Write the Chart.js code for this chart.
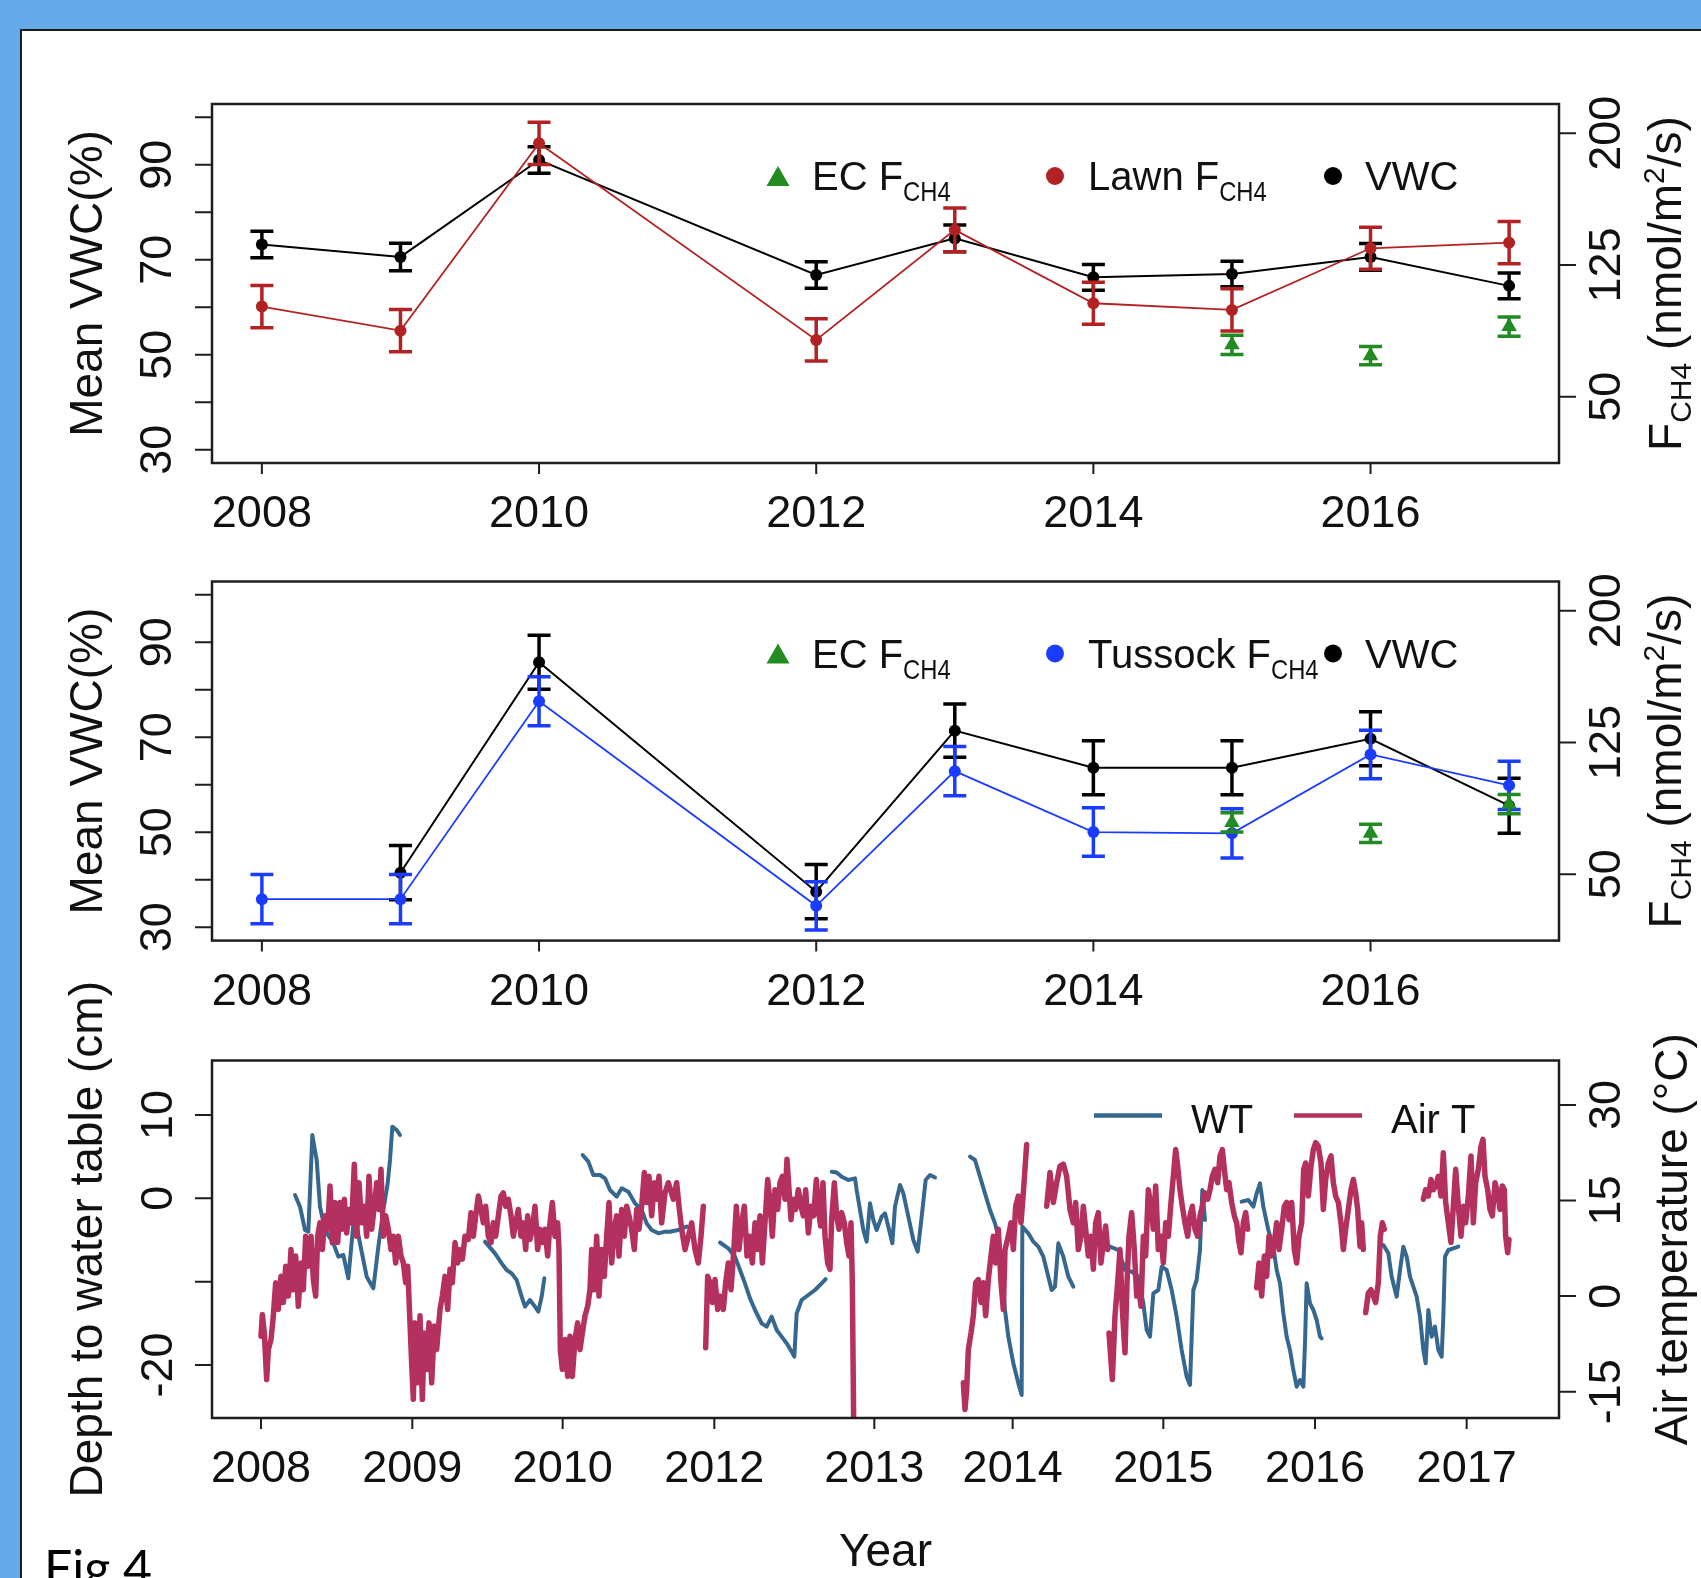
<!DOCTYPE html>
<html>
<head>
<meta charset="utf-8">
<script src="https://cdn.jsdelivr.net/npm/chart.js@4.4.1/dist/chart.umd.min.js"></script>
<style>
  html, body { margin: 0; padding: 0; }
  body { width: 1701px; height: 1578px; background: #64a9e8; position: relative; overflow: hidden; }
  #sheet { position: absolute; left: 20px; top: 29px; width: 1720px; height: 1600px; background: #fff; border: 2px solid #1b1b1b; }
  canvas { position: absolute; left: 0; top: 0; }
</style>
</head>
<body>
<div id="sheet"></div>
<canvas id="lawnChart" width="1701" height="1578"></canvas>
<canvas id="tussockChart" width="1701" height="1578"></canvas>
<canvas id="waterChart" width="1701" height="1578"></canvas>
<script>
// ---- panels a/b: yearly means with standard errors ----
const years = [2008, 2009, 2010, 2012, 2013, 2014, 2015, 2016, 2017];
const lawnVwc = [73.2, 70.6, 91.0, 66.8, 74.5, 66.3, 67.0, 70.6, 64.5];
const lawnVwcErr = [2.8, 2.9, 2.8, 2.8, 2.8, 2.7, 2.7, 2.8, 2.7];
const lawnFlux = [101.3, 87.6, 194.3, 82.3, 145.0, 103.2, 99.4, 134.5, 137.7];
const lawnFluxErr = [12, 12, 12, 12, 12.5, 12, 12, 12, 12];
const tussockVwc = [null, 41.5, 85.8, 37.5, 71.4, 63.6, 63.6, 69.7, 55.6];
const tussockVwcErr = [null, 5.7, 5.7, 5.7, 5.6, 5.7, 5.7, 5.7, 5.8];
const tussockFlux = [35.8, 35.8, 148.5, 32.0, 108.7, 74.0, 73.3, 118.2, 100.6];
const tussockFluxErr = [14, 14, 14, 13.7, 14, 13.8, 14, 13.8, 13.8];
const ecYears = [2015, 2016, 2017];
const ecFlux = [79.5, 73.3, 89.9];
const ecFluxErr = [5.5, 5.2, 5.5];

const yearTicks = [2008, 2010, 2012, 2014, 2016];
const vwcTicks = [30, 40, 50, 60, 70, 80, 90, 100];
const vwcLabels = [30, 50, 70, 90];
const fluxTicks = [50, 125, 200];

// ---- panel c: daily record, x = running index of observations (gaps removed) ----
const obsTickIdx = [0, 454, 905, 1360, 1840, 2255, 2707, 3162, 3617];
const obsTickLabels = ['2008', '2009', '2010', '2012', '2013', '2014', '2015', '2016', '2017'];
const wtTicks = [-20, -10, 0, 10];
const wtLabels = [-20, 0, 10];
const airTicks = [-15, 0, 15, 30];

const wtIdx = [
  102, 117, 132, 142, 154, 167, 177, 192, 217, 232, 247, 262, 280, 297, 317, 337, 352, 367, 380, 387, 394, 407, 417, 500,
  672, 702, 722, 737, 752, 767, 782, 792, 807, 822, 832, 842, 850, 900,
  965, 982, 997, 1017, 1032, 1047, 1067, 1082, 1102, 1122, 1142, 1157, 1172, 1192, 1212, 1227, 1252, 1277, 1320,
  1377, 1402, 1422, 1437, 1452, 1467, 1482, 1502, 1517, 1532, 1547, 1562, 1577, 1592, 1600, 1607, 1622, 1642, 1662, 1682, 1694, 1700,
  1712, 1727, 1742, 1762, 1782, 1787, 1797, 1807, 1817, 1827, 1837, 1847, 1862, 1872, 1882, 1894, 1902, 1917, 1927, 1942, 1957, 1970, 1982, 1994, 2007, 2022, 2080,
  2127, 2142, 2157, 2172, 2187, 2202, 2212, 2222, 2232, 2242, 2257, 2272, 2282, 2284, 2302, 2317, 2332, 2347, 2362, 2372, 2382, 2392, 2407, 2422, 2437, 2490,
  2547, 2572, 2592, 2612, 2632, 2647, 2657, 2667, 2677, 2692, 2702, 2717, 2732, 2747, 2762, 2777, 2787, 2797, 2807, 2817, 2824, 2832, 2900,
  2942, 2962, 2977, 2987, 2997, 3007, 3022, 3037, 3047, 3057, 3067, 3077, 3087, 3097, 3107, 3117, 3127, 3132, 3137, 3147, 3157, 3167, 3177, 3182, 3300,
  3367, 3382, 3392, 3407, 3417, 3427, 3437, 3447, 3457, 3467, 3477, 3487, 3494, 3502, 3512, 3522, 3532, 3542, 3547, 3552, 3562, 3577, 3592
];
const wtDepth = [
  0.4, -1.0, -3.8, -4.0, 7.6, 4.6, -1.0, -3.8, -5.4, -7.0, -6.8, -9.6, -1.8, -5.4, -9.4, -10.8, -5.8, -1.4, 1.8, 4.6, 8.6, 8.2, 7.6, null,
  -5.2, -6.6, -7.8, -8.6, -9.0, -9.8, -11.8, -13.0, -12.2, -13.0, -13.6, -11.8, -9.6, null,
  5.2, 4.4, 2.8, 2.8, 2.4, 1.0, 0.2, 1.2, 0.8, -0.6, -1.4, -3.0, -3.8, -4.2, -4.0, -4.0, -3.8, -3.4, null,
  -5.3, -6.0, -7.0, -8.6, -10.2, -12.0, -13.4, -15.0, -15.4, -14.2, -15.8, -16.6, -17.4, -18.4, -19.0, -13.8, -12.2, -11.6, -11.0, -10.2, -9.7, null,
  3.2, 3.1, 2.6, 2.2, 2.4, 1.0, -1.4, -3.8, -5.2, -0.6, -2.6, -3.8, -2.2, -1.8, -3.4, -5.4, -1.0, 1.6, 0.6, -2.2, -5.0, -6.4, -2.2, 2.2, 2.8, 2.5, null,
  5.0, 4.6, 2.6, 0.6, -1.4, -3.0, -4.6, -8.2, -13.4, -16.6, -19.8, -22.2, -23.6, -3.4, -4.2, -5.2, -5.8, -7.0, -9.4, -11.0, -10.6, -5.4, -7.0, -9.4, -10.6, null,
  -5.8, -6.2, -8.6, -8.8, -9.4, -12.6, -15.8, -16.6, -11.4, -11.0, -8.2, -8.6, -11.0, -14.2, -18.2, -21.4, -22.4, -11.0, -9.8, -6.2, 1.0, -2.6, null,
  -0.4, -0.2, -1.0, 0.6, 1.8, -1.0, -3.8, -5.8, -8.6, -10.2, -13.8, -16.6, -18.2, -20.6, -22.6, -21.8, -22.6, -17.4, -10.2, -12.6, -13.4, -14.6, -16.6, -16.8, null,
  -5.6, -6.6, -9.4, -11.8, -8.6, -5.8, -7.0, -9.4, -10.6, -11.8, -14.2, -18.2, -19.8, -13.4, -16.6, -15.4, -18.2, -19.0, -14.2, -7.0, -6.2, -6.0, -5.8
];

const airIdx = [
  0, 4, 10, 17, 22, 30, 37, 44, 52, 60, 67, 74, 82, 90, 97, 104, 112, 120, 127, 134, 142, 150, 157, 164, 170, 177, 184, 192, 200, 207,
  214, 222, 230, 237, 244, 250, 257, 264, 272, 280, 287, 294, 302, 310, 317, 324, 332, 340, 347, 354, 360, 367, 374, 382, 390, 397, 404, 412, 420, 427,
  434, 440, 447, 452, 457, 462, 470, 477, 484, 490, 497, 504, 512, 520, 527, 537, 544, 552, 560, 567, 574, 582, 590, 597, 604, 612, 622, 630, 637, 644,
  652, 660, 667, 674, 682, 690, 697, 704, 712, 720, 727, 734, 742, 750, 757, 764, 772, 780, 787, 794, 800, 807, 814, 822, 830, 837, 844, 852, 860, 867,
  874, 882, 890, 894, 898, 904, 912, 920, 927, 934, 942, 950, 957, 964, 972, 980, 987, 992, 1000, 1007, 1014, 1022, 1030, 1037, 1044, 1052, 1060, 1067, 1074, 1082,
  1090, 1097, 1104, 1112, 1120, 1127, 1134, 1142, 1150, 1157, 1164, 1172, 1180, 1187, 1194, 1202, 1212, 1222, 1237, 1247, 1254, 1262, 1272, 1282, 1292, 1302, 1312, 1320, 1327, 1330,
  1334, 1340, 1347, 1354, 1362, 1370, 1378, 1387, 1394, 1402, 1410, 1418, 1426, 1434, 1442, 1450, 1458, 1466, 1474, 1482, 1490, 1497, 1504, 1512, 1520, 1527, 1534, 1542, 1550, 1557,
  1564, 1572, 1578, 1584, 1590, 1597, 1604, 1612, 1620, 1627, 1634, 1642, 1650, 1658, 1666, 1672, 1679, 1686, 1692, 1700, 1707, 1712, 1720, 1727, 1734, 1742, 1750, 1757, 1764, 1770, 1774, 1778, 1900,
  2107, 2112, 2117, 2122, 2130, 2137, 2144, 2152, 2160, 2167, 2174, 2182, 2190, 2197, 2204, 2212, 2220, 2227, 2232, 2242, 2250, 2257, 2264, 2272, 2280, 2287, 2297, 2320,
  2357, 2367, 2377, 2387, 2397, 2407, 2417, 2427, 2437, 2444, 2452, 2460, 2467, 2474, 2482, 2490, 2497, 2504, 2512, 2520, 2527, 2534, 2540, 2542,
  2544, 2554, 2562, 2570, 2577, 2584, 2592, 2598, 2604, 2612, 2620, 2627, 2634, 2640, 2647, 2654, 2662, 2670, 2677, 2684, 2692, 2700, 2707, 2714, 2722, 2730, 2737, 2744, 2750, 2757,
  2764, 2772, 2780, 2787, 2794, 2802, 2810, 2817, 2824, 2832, 2840, 2847, 2854, 2862, 2870, 2877, 2884, 2890, 2897, 2904, 2912, 2920, 2927, 2934, 2940, 2947, 2954, 2960, 2975,
  2987, 2994, 3002, 3010, 3017, 3024, 3032, 3040, 3047, 3054, 3062, 3070, 3077, 3084, 3092, 3100, 3107, 3114, 3122, 3128, 3134, 3142, 3150, 3157, 3164, 3172, 3180, 3187, 3194, 3202,
  3210, 3217, 3224, 3232, 3240, 3247, 3254, 3262, 3270, 3277, 3284, 3290, 3297, 3302, 3307, 3310,
  3314, 3322, 3330, 3337, 3344, 3352, 3358, 3364, 3370, 3420,
  3487, 3494, 3502, 3510, 3517, 3524, 3532, 3540, 3547, 3554, 3562, 3570, 3577, 3584, 3592, 3600, 3607, 3614, 3622, 3630, 3637, 3644, 3652, 3660, 3666, 3672, 3680, 3687, 3694, 3702,
  3710, 3717, 3724, 3730, 3734, 3740, 3744
];
const airTemp = [
  -6.3, -2.9, -5.8, -13.1, -8.4, -6.8, -3.1, 2.1, -2.1, 3.1, -1.0, 4.7, 0, 7.3, 1.0, 6.3, -1.6, 5.2, 1.0, 9.4, 4.7, 9.4, 2.6, 0, 9.4, 11.5, 7.3, 12.6, 10.5, 17.3,
  8.4, 14.7, 8.4, 14.7, 10.5, 15.2, 9.9, 13.6, 11.5, 20.7, 9.4, 17.8, 11.5, 14.1, 9.4, 18.8, 10.5, 14.1, 17.8, 13.6, 19.9, 9.4, 12.6, 10.5, 7.3, 9.4, 5.2, 9.4, 6.3, 5.2,
  2.1, 4.7, -4.2, -10.5, -16.2, -4.2, -13.6, -3.1, -16.2, -5.8, -11.5, -4.2, -13.6, -4.7, -8.4, -2.1, 0, 3.1, -2.1, 4.2, 2.1, 8.4, 5.2, 7.3, 5.8, 9.4, 8.9, 13.1, 9.4, 12.6,
  15.7, 13.6, 11.5, 14.1, 9.4, 8.4, 11.5, 9.4, 12.6, 15.7, 16.2, 14.1, 15.2, 12.6, 9.4, 11.5, 13.6, 9.4, 11.5, 7.3, 12.6, 8.9, 10.5, 14.1, 7.3, 10.5, 8.4, 10.5, 6.3, 11.5,
  14.7, 9.4, 11.5, 7.3, -8.4, -11.5, -6.8, -12.6, -6.3, -12.6, -6.8, -4.2, -8.4, -5.8, -3.1, -1.6, 1.0, 7.3, 1.0, 9.4, 0, 7.3, 3.1, 9.4, 14.7, 5.2, 10.5, 12.6, 6.3, 13.6,
  9.4, 14.1, 12.6, 10.5, 7.3, 13.6, 10.5, 14.1, 19.4, 14.7, 18.8, 12.6, 17.8, 15.2, 18.8, 11.5, 16.2, 17.8, 15.2, 17.8, 14.1, 10.5, 7.3, 9.4, 11.5, 7.3, 5.2, 9.4, 14.1, null,
  -8.1, 3.1, 2.1, -1.0, 2.6, -2.1, 0, -2.1, 2.1, 5.2, 1.0, 6.8, 14.1, 7.3, 11.5, 14.1, 6.3, 9.4, 5.2, 11.5, 7.3, 12.6, 5.2, 11.5, 18.3, 14.7, 9.4, 16.7, 13.6, 17.8,
  18.8, 15.2, 21.5, 16.7, 12.0, 15.2, 13.6, 16.7, 14.1, 12.6, 16.7, 9.9, 14.1, 12.6, 18.3, 13.6, 11.0, 17.8, 9.4, 5.2, 4.2, 12.0, 17.8, 12.6, 10.5, 13.1, 11.5, 8.4, 6.3, 11.5, 2.1, -20, null,
  -13.6, -17.8, -14.7, -8.4, -5.8, -3.1, 2.1, 2.6, -1.0, 2.1, -3.1, 2.6, 6.3, 9.4, 5.2, 10.5, 2.1, -2.1, 7.3, 9.4, 11.5, 7.3, 14.1, 15.7, 11.5, 16.2, 23.8, null,
  14.1, 19.4, 14.7, 17.8, 20.4, 20.7, 18.8, 13.6, 11.5, 14.7, 7.3, 9.4, 14.1, 10.5, 6.3, 9.4, 4.2, 11.5, 13.1, 5.2, 8.4, 11.0, 7.3, null,
  -5.8, -13.1, -3.1, 2.1, 7.3, -2.1, -8.9, 2.1, 9.4, 13.1, 7.3, 0, 1.0, -1.6, 9.4, 6.3, 16.7, 14.1, 10.5, 17.3, 7.3, 9.4, 5.2, 11.5, 9.4, 14.7, 18.8, 23.0, 20.4, 16.7,
  14.1, 11.5, 9.4, 12.6, 14.1, 10.5, 9.4, 12.6, 14.1, 16.2, 15.2, 16.7, 18.8, 19.9, 17.8, 22.0, 23.0, 19.9, 16.7, 17.8, 14.7, 12.6, 11.5, 8.4, 6.8, 11.5, 13.1, 10.5, null,
  1.3, 5.2, 0, 6.3, 3.1, 9.4, 6.3, 8.4, 11.5, 7.3, 10.5, 14.1, 14.7, 12.0, 14.7, 7.3, 5.2, 9.4, 11.5, 19.9, 20.9, 15.7, 20.4, 23.0, 24.1, 23.5, 20.9, 13.6, 18.3, 20.9,
  22.0, 17.8, 15.7, 14.7, 11.5, 7.3, 10.5, 13.6, 16.7, 18.3, 16.2, 13.6, 7.8, 11.5, 7.3, null,
  -2.6, 0.5, 1.0, 0, -1.0, 2.1, 9.4, 11.5, 10.5, null,
  15.2, 16.7, 15.7, 18.3, 16.7, 17.3, 18.8, 15.7, 22.5, 14.7, 11.5, 8.4, 14.1, 19.9, 14.1, 9.4, 14.1, 11.5, 15.7, 22.0, 11.5, 17.8, 19.9, 23.5, 24.6, 18.8, 16.7, 13.6, 12.6, 17.8,
  16.2, 13.6, 17.3, 16.7, 9.4, 6.8, 8.9
];

const FONT = '"Liberation Sans", Arimo, Arial, Helvetica, sans-serif';
const TICK_SIZE = 45;
const TITLE_SIZE = 46;
const LEG_SIZE = 40;
const GREEN = '#228b22';
const LAWN = '#b22222';
const TUSSOCK = '#1a3cff';
const WT_COL = '#35678f';
const AIR_COL = '#b3305f';

const pts = (xs, ys) => xs.map((x, i) => ({ x, y: ys[i] }));

// text made of pieces (for sub/superscripts), optionally rotated to read upwards
function rich(ctx, parts, x, y, rotate, align) {
  ctx.save();
  ctx.translate(x, y);
  if (rotate) ctx.rotate(-Math.PI / 2);
  ctx.textAlign = 'left';
  ctx.textBaseline = 'alphabetic';
  ctx.fillStyle = '#111';
  let total = 0;
  const widths = parts.map(p => {
    ctx.font = p.s + 'px ' + FONT;
    const w = ctx.measureText(p.t).width * (p.sx || 1);
    total += w;
    return w;
  });
  let cx = align === 'center' ? -total / 2 : 0;
  parts.forEach((p, i) => {
    ctx.font = p.s + 'px ' + FONT;
    ctx.save();
    ctx.translate(cx, p.dy || 0);
    ctx.scale(p.sx || 1, 1);
    ctx.fillText(p.t, 0, 0);
    ctx.restore();
    cx += widths[i];
  });
  ctx.restore();
}

function drawErrors(chart, args, specs) {
  const spec = specs[args.index];
  if (!spec) return;
  const ctx = chart.ctx;
  const xs = chart.scales.x;
  const ys = chart.scales[spec.axis];
  ctx.save();
  ctx.strokeStyle = spec.color;
  ctx.lineWidth = 3.5;
  spec.x.forEach((xv, i) => {
    const v = spec.y[i];
    const e = spec.e[i];
    if (v == null) return;
    const px = xs.getPixelForValue(xv);
    const top = ys.getPixelForValue(v + e);
    const bot = ys.getPixelForValue(v - e);
    ctx.beginPath();
    ctx.moveTo(px, top); ctx.lineTo(px, bot);
    ctx.moveTo(px - 11.5, top); ctx.lineTo(px + 11.5, top);
    ctx.moveTo(px - 11.5, bot); ctx.lineTo(px + 11.5, bot);
    ctx.stroke();
  });
  ctx.restore();
}

// R style box, outward ticks, rotated y labels and axis titles
function drawFrame(chart, f) {
  const { ctx, chartArea: a, scales } = chart;
  ctx.save();
  ctx.strokeStyle = '#1e1e1e';
  ctx.lineWidth = 2.5;
  ctx.strokeRect(a.left, a.top, a.right - a.left, a.bottom - a.top);
  ctx.lineWidth = 2;
  ctx.beginPath();
  f.xTicks.forEach(v => {
    const x = scales.x.getPixelForValue(v);
    ctx.moveTo(x, a.bottom); ctx.lineTo(x, a.bottom + 11);
  });
  f.yTicks.forEach(v => {
    const y = scales.y.getPixelForValue(v);
    ctx.moveTo(a.left, y); ctx.lineTo(a.left - 17, y);
  });
  f.y2Ticks.forEach(v => {
    const y = scales.y2.getPixelForValue(v);
    ctx.moveTo(a.right, y); ctx.lineTo(a.right + 17, y);
  });
  ctx.stroke();

  ctx.fillStyle = '#111';
  ctx.font = TICK_SIZE + 'px ' + FONT;
  ctx.textAlign = 'center';
  ctx.textBaseline = 'alphabetic';
  f.xTicks.forEach((v, i) => ctx.fillText(f.xLabels[i], scales.x.getPixelForValue(v), a.bottom + 64));
  f.yLabels.forEach(v => rich(ctx, [{ t: String(v), s: TICK_SIZE }], a.left - f.yLabelGap, scales.y.getPixelForValue(v), true, 'center'));
  f.y2Labels.forEach(v => rich(ctx, [{ t: String(v), s: TICK_SIZE }], a.right + 61, scales.y2.getPixelForValue(v), true, 'center'));

  const mid = (a.top + a.bottom) / 2;
  rich(ctx, f.leftTitle, 102, mid, true, 'center');
  rich(ctx, f.rightTitle, f.rightTitleX, mid, true, 'center');
  if (f.legend) f.legend(ctx, a);
  if (f.extra) f.extra(ctx, a);
  ctx.restore();
}

function dot(ctx, x, y, col) {
  ctx.fillStyle = col;
  ctx.beginPath();
  ctx.arc(x, y, 9, 0, Math.PI * 2);
  ctx.fill();
}

function fluxLegend(ctx, a, site, col) {
  const y = a.top + 72;
  ctx.fillStyle = GREEN;
  ctx.beginPath();
  ctx.moveTo(778, y - 10); ctx.lineTo(789.5, y + 10); ctx.lineTo(766.5, y + 10);
  ctx.closePath();
  ctx.fill();
  rich(ctx, [{ t: 'EC F', s: LEG_SIZE }, { t: 'CH4', s: 28, dy: 11, sx: 0.85 }], 812, y + 14);
  dot(ctx, 1055, y, col);
  rich(ctx, [{ t: site + ' F', s: LEG_SIZE }, { t: 'CH4', s: 28, dy: 11, sx: 0.85 }], 1088, y + 14);
  dot(ctx, 1333, y, '#000');
  rich(ctx, [{ t: 'VWC', s: LEG_SIZE }], 1365, y + 14);
}

const fluxTitle = [
  { t: 'F', s: TITLE_SIZE }, { t: 'CH4', s: 30, dy: 10 },
  { t: ' (nmol/m', s: TITLE_SIZE }, { t: '2', s: 30, dy: -17 }, { t: '/s)', s: TITLE_SIZE }
];

function framePlugin(id, frame, errSpecs) {
  return {
    id,
    afterDatasetDraw(chart, args) {
      if (errSpecs) drawErrors(chart, args, errSpecs);
    },
    afterDraw(chart) {
      drawFrame(chart, frame);
    }
  };
}

function baseOptions(pad, xr, yr, y2r) {
  return {
    responsive: false,
    animation: false,
    devicePixelRatio: 1,
    events: [],
    layout: { padding: pad },
    plugins: { legend: { display: false }, tooltip: { enabled: false } },
    scales: {
      x: { type: 'linear', display: false, min: xr[0], max: xr[1] },
      y: { type: 'linear', display: false, min: yr[0], max: yr[1] },
      y2: { type: 'linear', display: false, position: 'right', min: y2r[0], max: y2r[1] }
    }
  };
}

function meanPanel(canvasId, pad, site, col, vwc, vwcErr, flux, fluxErr) {
  const frame = {
    xTicks: yearTicks, xLabels: yearTicks.map(String),
    yTicks: vwcTicks, yLabels: vwcLabels, yLabelGap: 41,
    y2Ticks: fluxTicks, y2Labels: fluxTicks,
    leftTitle: [{ t: 'Mean VWC(%)', s: TITLE_SIZE }],
    rightTitle: fluxTitle, rightTitleX: 1681,
    legend: (ctx, a) => fluxLegend(ctx, a, site, col)
  };
  // dataset index -> error bars; index 0 is drawn last (on top)
  const errs = {
    0: { x: ecYears, y: ecFlux, e: ecFluxErr, color: GREEN, axis: 'y2' },
    1: { x: years, y: flux, e: fluxErr, color: col, axis: 'y2' },
    2: { x: years, y: vwc, e: vwcErr, color: '#000', axis: 'y' }
  };
  return new Chart(document.getElementById(canvasId), {
    type: 'line',
    data: {
      datasets: [
        { label: 'EC FCH4', data: pts(ecYears, ecFlux), yAxisID: 'y2', showLine: false,
          pointStyle: 'triangle', pointRadius: 9, backgroundColor: GREEN, borderColor: GREEN, pointBorderWidth: 0 },
        { label: site + ' FCH4', data: pts(years, flux), yAxisID: 'y2', borderColor: col, backgroundColor: col,
          borderWidth: 1.8, pointRadius: 6, pointBorderWidth: 0 },
        { label: 'VWC', data: pts(years, vwc), yAxisID: 'y', borderColor: '#000', backgroundColor: '#000',
          borderWidth: 2, pointRadius: 6, pointBorderWidth: 0 }
      ]
    },
    options: baseOptions(pad, [2007.64, 2017.36], [27.2, 102.8], [12.2, 216.7]),
    plugins: [framePlugin(canvasId + 'Frame', frame, errs)]
  });
}

meanPanel('lawnChart', { left: 212, right: 142, top: 104, bottom: 1115 },
  'Lawn', LAWN, lawnVwc, lawnVwcErr, lawnFlux, lawnFluxErr);
meanPanel('tussockChart', { left: 212, right: 142, top: 581.5, bottom: 637.4 },
  'Tussock', TUSSOCK, tussockVwc, tussockVwcErr, tussockFlux, tussockFluxErr);

const waterFrame = {
  xTicks: obsTickIdx, xLabels: obsTickLabels,
  yTicks: wtTicks, yLabels: wtLabels, yLabelGap: 40,
  y2Ticks: airTicks, y2Labels: airTicks,
  leftTitle: [{ t: 'Depth to water table (cm)', s: TITLE_SIZE }],
  rightTitle: [{ t: 'Air temperature (\u00B0C)', s: TITLE_SIZE }], rightTitleX: 1687,
  legend: (ctx, a) => {
    const y = a.top + 55;
    ctx.lineWidth = 4.5;
    ctx.strokeStyle = WT_COL;
    ctx.beginPath(); ctx.moveTo(1094, y); ctx.lineTo(1162, y); ctx.stroke();
    ctx.strokeStyle = AIR_COL;
    ctx.beginPath(); ctx.moveTo(1294, y); ctx.lineTo(1362, y); ctx.stroke();
    rich(ctx, [{ t: 'WT', s: LEG_SIZE }], 1191, a.top + 72);
    rich(ctx, [{ t: 'Air T', s: LEG_SIZE }], 1391, a.top + 72);
  },
  extra: (ctx, a) => {
    ctx.fillStyle = '#111';
    ctx.font = TITLE_SIZE + 'px ' + FONT;
    ctx.textAlign = 'center';
    ctx.fillText('Year', (a.left + a.right) / 2, 1566);
    ctx.fillStyle = '#000';
    ctx.font = '50px Lato, "Open Sans", sans-serif';
    ctx.textAlign = 'left';
    ctx.fillText('Fig 4', 44, 1586);
  }
};

new Chart(document.getElementById('waterChart'), {
  type: 'line',
  data: {
    datasets: [
      { label: 'Air T', data: pts(airIdx, airTemp), yAxisID: 'y2', borderColor: AIR_COL, borderWidth: 5.5,
        pointRadius: 0, spanGaps: false, borderJoinStyle: 'round', borderCapStyle: 'round' },
      { label: 'WT', data: pts(wtIdx, wtDepth), yAxisID: 'y', borderColor: WT_COL, borderWidth: 4,
        pointRadius: 0, spanGaps: false, borderJoinStyle: 'round', borderCapStyle: 'round' }
    ]
  },
  options: baseOptions({ left: 212, right: 142, top: 1060.5, bottom: 160 }, [-147, 3894], [-26.36, 16.54], [-19.13, 36.98]),
  plugins: [framePlugin('waterFrame', waterFrame, null)]
});
</script>
</body>
</html>
